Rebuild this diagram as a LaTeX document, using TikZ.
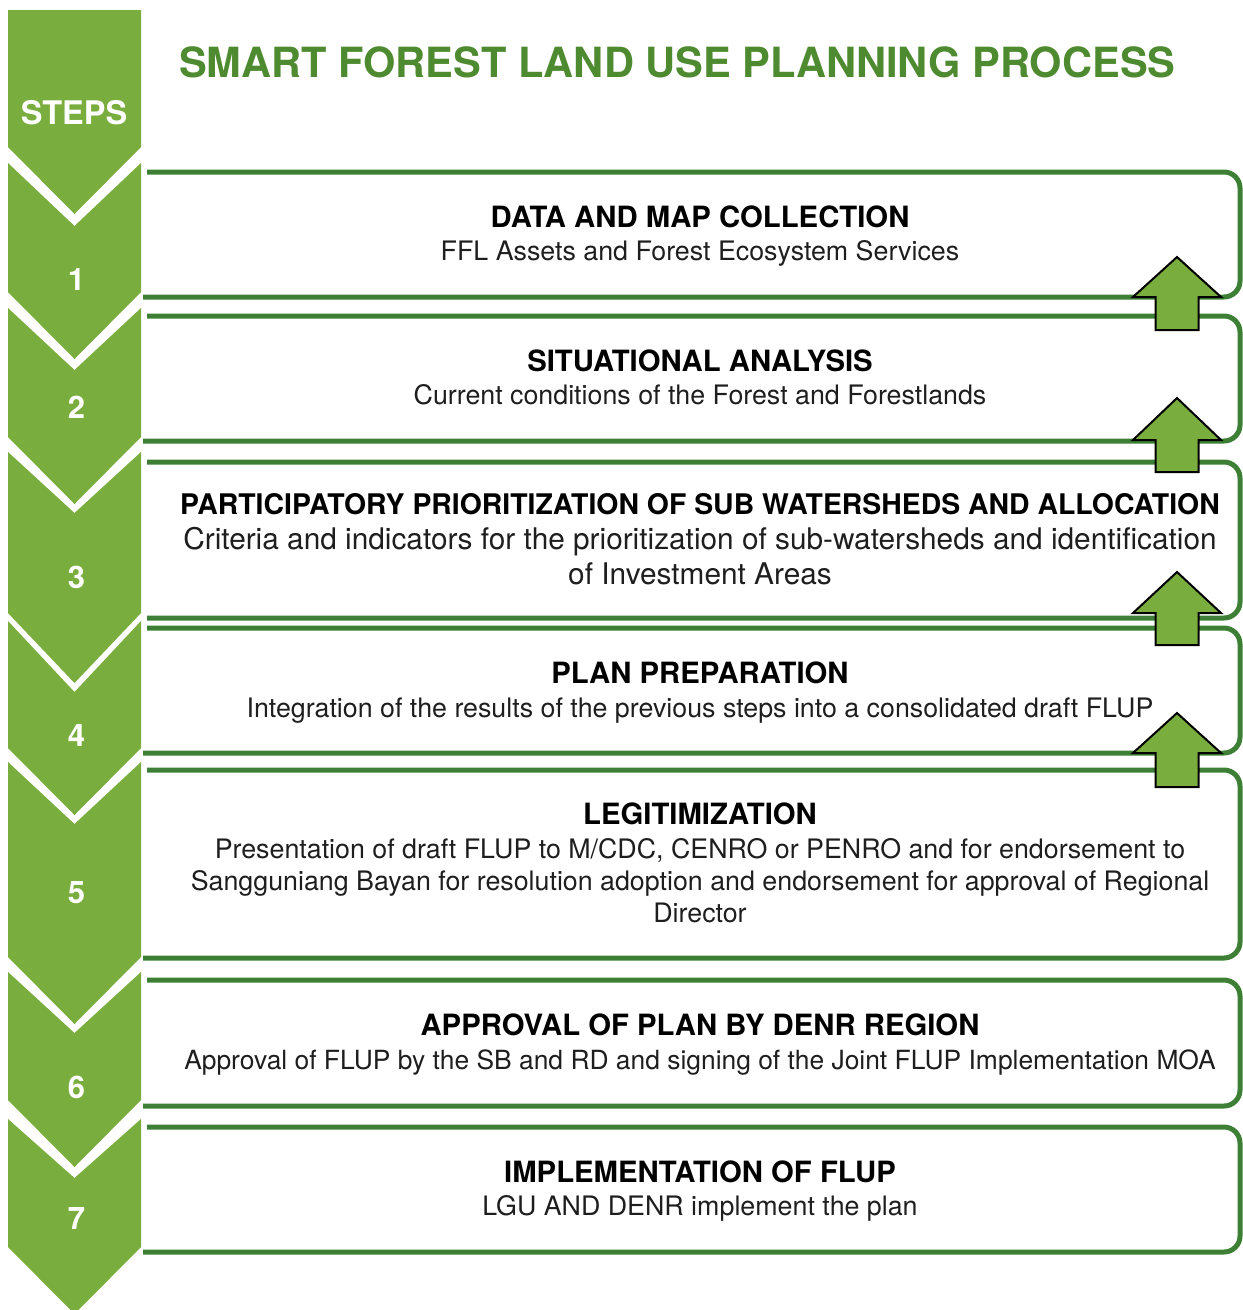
\documentclass[tikz,border=0pt]{standalone}
\usepackage{fontspec}
\setmainfont{TeX Gyre Heros}
\definecolor{chevgreen}{HTML}{79AD3D}
\definecolor{framegreen}{HTML}{3D7F35}
\definecolor{titlegreen}{HTML}{4E8A2F}
\definecolor{bodyink}{HTML}{1E1E1E}

% one step of the chevron column: top y, notch depth, bottom y, point depth
\newcommand\chevseg[4]{%
  \fill[chev] (8,#1) -- (74.5,{#1+#2}) -- (141,#1) -- (141,#3)
    -- (74.5,{#3+#4}) -- (8,#3) -- cycle;}
% an open-left step frame with rounded right corners: top y, bottom y, left x of bottom line
\newcommand\stepframe[3]{%
  \draw[frame] (147,#1) -- (1240,#1) -- (1240,#2) -- (#3,#2);}
% block up-arrow: name, tip y, head base y, shaft bottom y
\newcommand\uparrowat[4]{%
  \draw[uparrow] (1177,#2) coordinate (#1) -- (1221,#3) -- (1198.5,#3) -- (1198.5,#4)
    -- (1155.5,#4) -- (1155.5,#3) -- (1133,#3) -- cycle;}

\begin{document}
\begin{tikzpicture}[x=1pt,y=-1pt,
  chev/.style={fill=chevgreen},
  frame/.style={draw=framegreen, line width=5pt, rounded corners=16pt},
  uparrow/.style={fill=chevgreen, draw=black, line width=2pt, line join=miter},
  stepnum/.style={font=\fontsize{31}{36}\selectfont\bfseries, text=white, anchor=base, inner sep=0pt},
  head/.style={font=\fontsize{29.3}{34}\selectfont\bfseries, text=black, anchor=base, inner sep=0pt},
  body/.style={font=\fontsize{26.8}{32}\selectfont, text=bodyink, anchor=base, inner sep=0pt}]
\useasboundingbox (0,0) rectangle (1243,1310);
\clip (0,0) rectangle (1243,1310);

% chevron column
\fill[chev] (8,10) -- (141,10) -- (141,147) -- (74.5,214) -- (8,147) -- cycle;
\chevseg{163}{63}{292}{67}
\chevseg{308}{62}{437}{67}
\chevseg{452}{61}{613}{70}
\chevseg{621}{71}{748}{67}
\chevseg{762}{62}{957}{67}
\chevseg{972}{61}{1100}{67}
\chevseg{1119}{59}{1247}{67}

\node[stepnum, font=\fontsize{32.5}{38}\selectfont\bfseries] (steps) at (74,124) {STEPS};
\node[stepnum] (n1) at (76.5,290) {1};
\node[stepnum] (n2) at (76.5,418) {2};
\node[stepnum] (n3) at (76.5,588) {3};
\node[stepnum] (n4) at (76.5,746) {4};
\node[stepnum] (n5) at (76.5,903) {5};
\node[stepnum] (n6) at (76.5,1098) {6};
\node[stepnum] (n7) at (76.5,1229) {7};

% title
\node[font=\fontsize{41.6}{48}\selectfont\bfseries, text=titlegreen, anchor=base west, inner sep=0pt]
  (title) at (179,77) {SMART FOREST LAND USE PLANNING PROCESS};

% step frames
\stepframe{172}{297}{143}
\stepframe{316}{441}{143}
\stepframe{462}{618}{147}
\stepframe{628}{753}{143}
\stepframe{770}{958}{143}
\stepframe{980}{1106}{143}
\stepframe{1127}{1252}{143}

% arrows between consecutive steps
\uparrowat{a1}{257}{297}{330}
\uparrowat{a2}{398}{440}{472}
\uparrowat{a3}{572}{613}{645}
\uparrowat{a4}{713}{753}{787}

% step texts
\node[head] (h1) at (700,227) {DATA AND MAP COLLECTION};
\node[body] (b1) at (700,260) {FFL Assets and Forest Ecosystem Services};

\node[head] (h2) at (700,371) {SITUATIONAL ANALYSIS};
\node[body] (b2) at (700,404) {Current conditions of the Forest and Forestlands};

\node[head, font=\fontsize{28.4}{34}\selectfont\bfseries] (h3) at (700,514) {PARTICIPATORY PRIORITIZATION OF SUB WATERSHEDS AND ALLOCATION};
\node[body, font=\fontsize{29.8}{35}\selectfont] (b3a) at (700,549) {Criteria and indicators for the prioritization of sub-watersheds and identification};
\node[body, font=\fontsize{29.8}{35}\selectfont] (b3b) at (700,584) {of Investment Areas};

\node[head] (h4) at (700,683) {PLAN PREPARATION};
\node[body] (b4) at (700,717) {Integration of the results of the previous steps into a consolidated draft FLUP};

\node[head] (h5) at (700,824) {LEGITIMIZATION};
\node[body] (b5a) at (700,858) {Presentation of draft FLUP to M/CDC, CENRO or PENRO and for endorsement to};
\node[body] (b5b) at (700,890) {Sangguniang Bayan for resolution adoption and endorsement for approval of Regional};
\node[body] (b5c) at (700,922) {Director};

\node[head] (h6) at (700,1035) {APPROVAL OF PLAN BY DENR REGION};
\node[body, font=\fontsize{26.4}{32}\selectfont] (b6) at (700,1069) {Approval of FLUP by the SB and RD and signing of the Joint FLUP Implementation MOA};

\node[head] (h7) at (700,1182) {IMPLEMENTATION OF FLUP};
\node[body] (b7) at (700,1215) {LGU AND DENR implement the plan};
\end{tikzpicture}
\end{document}
